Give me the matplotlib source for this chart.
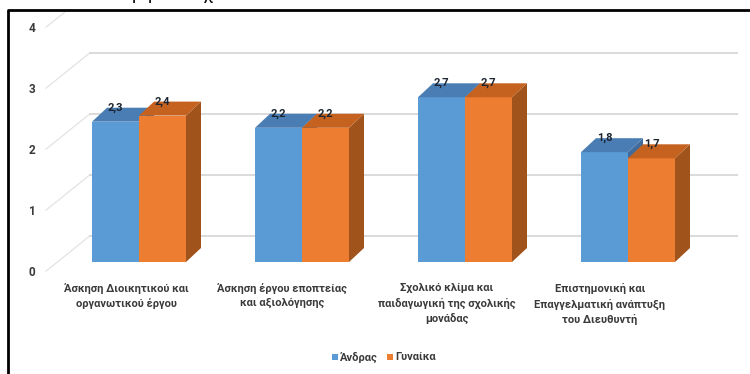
import matplotlib
matplotlib.use("Agg")
import matplotlib.pyplot as plt
from matplotlib.patches import Polygon, Rectangle
from matplotlib.lines import Line2D

# ---- data ----
categories = [
    "Άσκηση Διοικητικού και\nοργανωτικού έργου",
    "Άσκηση έργου εποπτείας\nκαι αξιολόγησης",
    "Σχολικό κλίμα και\nπαιδαγωγική της σχολικής\nμονάδας",
    "Επιστημονική και\nΕπαγγελματική ανάπτυξη\nτου Διευθυντή",
]
men = [2.3, 2.2, 2.7, 1.8]
women = [2.4, 2.2, 2.7, 1.7]
series_names = ["Άνδρας", "Γυναίκα"]
y_ticks = [0, 1, 2, 3, 4]

# ---- layout (pixels of a 750x374 canvas) ----
W, H, DPI = 750, 374, 100
PX_PER_UNIT = 61.0     # vertical pixels per value unit
BASE_PX = 262.0        # pixel row of value 0 at the bar fronts
CAT0_PX = 139.0        # pixel column of the first category centre
CAT_STEP_PX = 163.0    # distance between categories


def fx(px):
    return (px - CAT0_PX) / CAT_STEP_PX


def fy(py):
    return (BASE_PX - py) / PX_PER_UNIT


BAR_W = 47 / CAT_STEP_PX          # width of one column
DEPTH_X = 15 / CAT_STEP_PX        # 3-D depth offset of the columns
DEPTH_Y = 14 / PX_PER_UNIT
WALL_Y = 0.43                     # back-wall gridline offset
TICK_Y = -0.17                    # tick label offset

FONT = ["Roboto", "DejaVu Sans"]
TXT = "#3a3a3a"

BLUE = dict(front="#5b9bd5", top="#4a7db3", side="#3f6c9c")
ORANGE = dict(front="#ed7d31", top="#c5621f", side="#a0531b")

fig = plt.figure(figsize=(W / DPI, H / DPI), dpi=DPI)
fig.patch.set_facecolor("white")

frame_left, frame_top = 8, 10
ax = fig.add_axes([(frame_left + 1) / W, 0, 1 - (frame_left + 1) / W, 1 - (frame_top + 1) / H])
ax.set_xlim(fx(frame_left + 1), fx(W))
ax.set_ylim(fy(H), fy(frame_top + 1))
ax.axis("off")

# back-wall gridlines with their diagonal side-wall connectors
wall_x0, wall_x1 = fx(90), fx(737)
for k in y_ticks:
    ax.plot([fx(46), wall_x0], [k + TICK_Y + 0.02, k + WALL_Y], color="#e3e3e3", lw=0.9, zorder=1)
    ax.plot([wall_x0, wall_x1], [k + WALL_Y, k + WALL_Y], color="#dadada", lw=1.4, zorder=1)
    ax.text(fx(32), k + TICK_Y, str(k), ha="center", va="center", fontsize=8.5,
            fontweight="bold", color=TXT, family=FONT)


def column(x_left, v, cols, z):
    xr = x_left + BAR_W
    ax.bar(x_left, v, width=BAR_W, align="edge", color=cols["front"], lw=0, zorder=z)
    top = Polygon([(x_left, v), (xr, v), (xr + DEPTH_X, v + DEPTH_Y), (x_left + DEPTH_X, v + DEPTH_Y)],
                  closed=True, facecolor=cols["top"], lw=0, zorder=z)
    side = Polygon([(xr, 0), (xr, v), (xr + DEPTH_X, v + DEPTH_Y), (xr + DEPTH_X, DEPTH_Y)],
                   closed=True, facecolor=cols["side"], lw=0, zorder=z)
    ax.add_patch(side)
    ax.add_patch(top)
    label = f"{v:.1f}".replace(".", ",")
    ax.text(x_left + BAR_W / 2, v + DEPTH_Y, label, ha="center", va="center", fontsize=8,
            fontweight="bold", color="#1b2430", family=FONT, zorder=z + 0.5)


for i, (m, w) in enumerate(zip(men, women)):
    column(i - BAR_W, m, BLUE, 3 + i * 2)
    column(i, w, ORANGE, 4 + i * 2)

# category labels below the floor
label_px = [126, 282, 447, 600]
for px, name in zip(label_px, categories):
    ax.text(fx(px), fy(283), name, ha="center", va="top", fontsize=8, fontweight="bold",
            color=TXT, family=FONT, linespacing=1.5)

# legend
for sq_px, txt_px, name, cols in [(335, 340, series_names[0], BLUE), (390, 395, series_names[1], ORANGE)]:
    ax.add_patch(Rectangle((fx(sq_px - 3), fy(360)), 6 / CAT_STEP_PX, 6 / PX_PER_UNIT,
                           facecolor=cols["front"], lw=0, zorder=5))
    ax.text(fx(txt_px), fy(357), name, ha="left", va="center", fontsize=8, fontweight="bold",
            color=TXT, family=FONT)

# outer frame (left and top edges)
fig.add_artist(Line2D([frame_left / W, frame_left / W, 1], [0, 1 - frame_top / H, 1 - frame_top / H],
                      transform=fig.transFigure, color="black", lw=2.0))

# title line sitting above the frame, mostly outside the canvas
for px, ch in [(137, "ρ"), (153, "ρ"), (207, "χ")]:
    fig.text(px / W, 1 + 1 / H, ch, ha="center", va="baseline", fontsize=13, color="black", family=FONT)

fig.savefig("out.png", dpi=DPI)
